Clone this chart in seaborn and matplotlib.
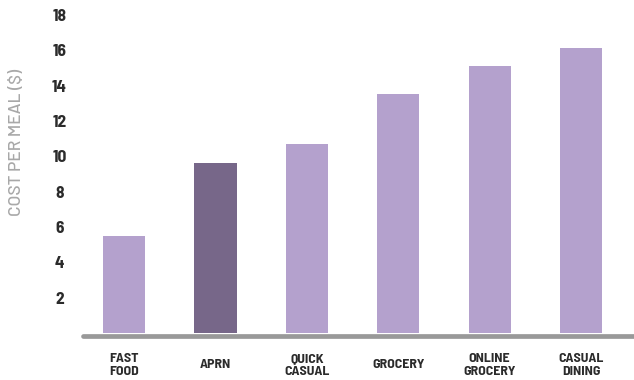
import matplotlib
matplotlib.use("Agg")
import matplotlib.pyplot as plt
import seaborn as sns
import pandas as pd

categories = ["FAST\nFOOD", "APRN", "QUICK\nCASUAL", "GROCERY", "ONLINE\nGROCERY", "CASUAL\nDINING"]
cost_per_meal = [5.5, 9.6, 10.7, 13.5, 15.1, 16.1]
highlight = ["other", "aprn", "other", "other", "other", "other"]
y_ticks = [2, 4, 6, 8, 10, 12, 14, 16, 18]

sns.set_style("white")
condensed = ["Barlow Semi Condensed", "DejaVu Sans"]
plt.rcParams["font.family"] = condensed

df = pd.DataFrame({"category": categories, "cost": cost_per_meal, "group": highlight})

fig = plt.figure(figsize=(6.34, 3.80), dpi=100)
ax = fig.add_axes([83 / 634, 40 / 380, 551 / 634, 335 / 380])

sns.barplot(data=df, x="category", y="cost", hue="group",
            palette={"other": "#b4a1cd", "aprn": "#776789"},
            width=0.46, dodge=False, legend=False, ax=ax, saturation=1,
            linewidth=0)

ax.set_xlim(-0.45, 5.58)
ax.set_ylim(-0.4, 18.56)
ax.plot([-0.45, 5.58], [-0.17, -0.17], color="#999999", lw=3.4,
        solid_capstyle="round", clip_on=False, zorder=5)

for s in ax.spines.values():
    s.set_visible(False)

ax.set_yticks(y_ticks)
ax.set_yticklabels([str(t) for t in y_ticks], fontsize=12.5, fontweight="bold",
                   color="#2b2b2b", ha="center")
ax.tick_params(axis="y", length=0, pad=17)
ax.tick_params(axis="x", length=0, pad=18)
for lbl in ax.get_xticklabels():
    lbl.set_fontsize(10)
    lbl.set_fontweight("bold")
    lbl.set_color("#2b2b2b")
    lbl.set_verticalalignment("center")
    lbl.set_linespacing(1.2)

ax.set_xlabel("")
ax.set_ylabel("")
fig.text(17 / 634, 1 - 142 / 380, "COST PER MEAL ($)", rotation=90,
         ha="center", va="center", fontsize=12.5, color="#a8a8a8",
         family=["Barlow", "DejaVu Sans"], fontweight="medium")

fig.savefig("out.png", dpi=100)
